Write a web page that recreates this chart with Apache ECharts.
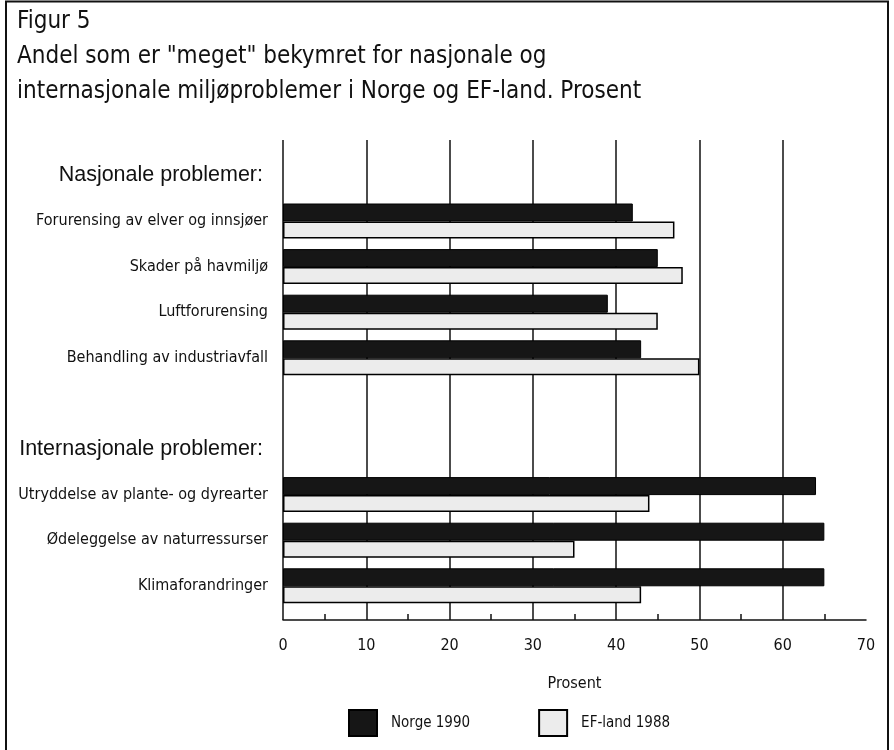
<!DOCTYPE html>
<html>
<head>
<meta charset="utf-8">
<script src="https://cdn.jsdelivr.net/npm/echarts@6/dist/echarts.min.js"></script>
<style>
html,body{margin:0;padding:0;background:#fff;}
#chart{width:894px;height:750px;}
</style>
</head>
<body>
<div id="chart"></div>
<script>
// ---- data ----
var titleLines = ['Figur 5', 'Andel som er "meget" bekymret for nasjonale og', 'internasjonale miljøproblemer i Norge og EF-land. Prosent'];
var headerNational = 'Nasjonale problemer:';
var headerInternational = 'Internasjonale problemer:';
var nationalProblems = ['Forurensing av elver og innsjøer', 'Skader på havmiljø', 'Luftforurensing', 'Behandling av industriavfall'];
var nationalNorge = [42, 45, 39, 43];
var nationalEF = [47, 48, 45, 50];
var internationalProblems = ['Utryddelse av plante- og dyrearter', 'Ødeleggelse av naturressurser', 'Klimaforandringer'];
var internationalNorge = [64, 65, 65];
var internationalEF = [44, 35, 43];
var seriesNames = ['Norge 1990', 'EF-land 1988'];
var xTicks = [0, 10, 20, 30, 40, 50, 60, 70];
var xName = 'Prosent';

// ---- build category axis (headers occupy their own rows) ----
var categories = [headerNational].concat(nationalProblems, [''], [headerInternational], internationalProblems);
var norge = [null].concat(nationalNorge, [null, null], internationalNorge);
var ef = [null].concat(nationalEF, [null, null], internationalEF);
var headers = {};
headers[headerNational] = true; headers[headerInternational] = true;

var COND = "'Liberation Sans Narrow','DejaVu Sans Condensed','Roboto Condensed',sans-serif";
var REG = "'Liberation Sans','Arial',sans-serif";

var chart = echarts.init(document.getElementById('chart'));
chart.setOption({
  animation: false,
  backgroundColor: '#fff',
  title: {
    text: titleLines.join('\n'),
    left: 17, top: 4, padding: 0,
    textStyle: {fontFamily: COND, fontSize: 24, fontWeight: 'normal', color: '#111', lineHeight: 35}
  },
  legend: {
    data: seriesNames,
    left: 348, top: 709, padding: 0,
    itemWidth: 28, itemHeight: 26, itemGap: 68,
    icon: 'rect',
    textStyle: {fontFamily: COND, fontSize: 15, color: '#111', padding: [0, 0, 0, 9]}
  },
  grid: [
    {left: 283, right: 28, top: 152.6, height: 456},
    {left: 283, right: 28, top: 140, bottom: 130}
  ],
  xAxis: [
    {gridIndex: 0, type: 'value', min: 0, max: 70, show: false},
    {gridIndex: 1, type: 'value', min: xTicks[0], max: xTicks[xTicks.length - 1], interval: 10,
     name: xName, nameLocation: 'middle', nameGap: 56,
     nameTextStyle: {fontFamily: COND, fontSize: 16, color: '#111'},
     axisLine: {show: true, lineStyle: {color: '#111', width: 1.5}},
     axisTick: {show: false, inside: true},
     minorTick: {show: true, splitNumber: 2, length: 6, lineStyle: {color: '#111', width: 1.5}},
     axisLabel: {fontFamily: COND, fontSize: 16, color: '#111', margin: 18},
     splitLine: {show: true, showMaxLine: false, lineStyle: {color: '#111', width: 1.5}}
    }
  ],
  yAxis: [
    {gridIndex: 0, type: 'category', inverse: true, data: categories,
     axisLine: {show: false}, axisTick: {show: false},
     axisLabel: {
       margin: 15, color: '#111',
       formatter: function (v) { return headers[v] ? '{h|' + v + '}' : '{c|' + v + '}'; },
       rich: {
         h: {fontFamily: REG, fontSize: 21.5, color: '#111', padding: [0, 5, 0, 0]},
         c: {fontFamily: COND, fontSize: 16, color: '#111'}
       }
     }
    },
    {gridIndex: 1, type: 'value', min: 0, max: 1, show: false}
  ],
  series: [
    {name: seriesNames[0], type: 'bar', xAxisIndex: 0, yAxisIndex: 0, data: norge,
     barWidth: 18, barGap: '0%',
     itemStyle: {color: '#161616', borderColor: '#000', borderWidth: 1}},
    {name: seriesNames[1], type: 'bar', xAxisIndex: 0, yAxisIndex: 0, data: ef,
     barWidth: 17, barGap: '0%',
     itemStyle: {color: '#ececec', borderColor: '#000', borderWidth: 1.5}}
  ],
  graphic: [
    {type: 'polyline', shape: {points: [[6, 750], [6, 1.5], [888, 1.5], [888, 750]]},
     style: {stroke: '#111', lineWidth: 2, fill: null}, silent: true}
  ]
});
</script>
</body>
</html>
